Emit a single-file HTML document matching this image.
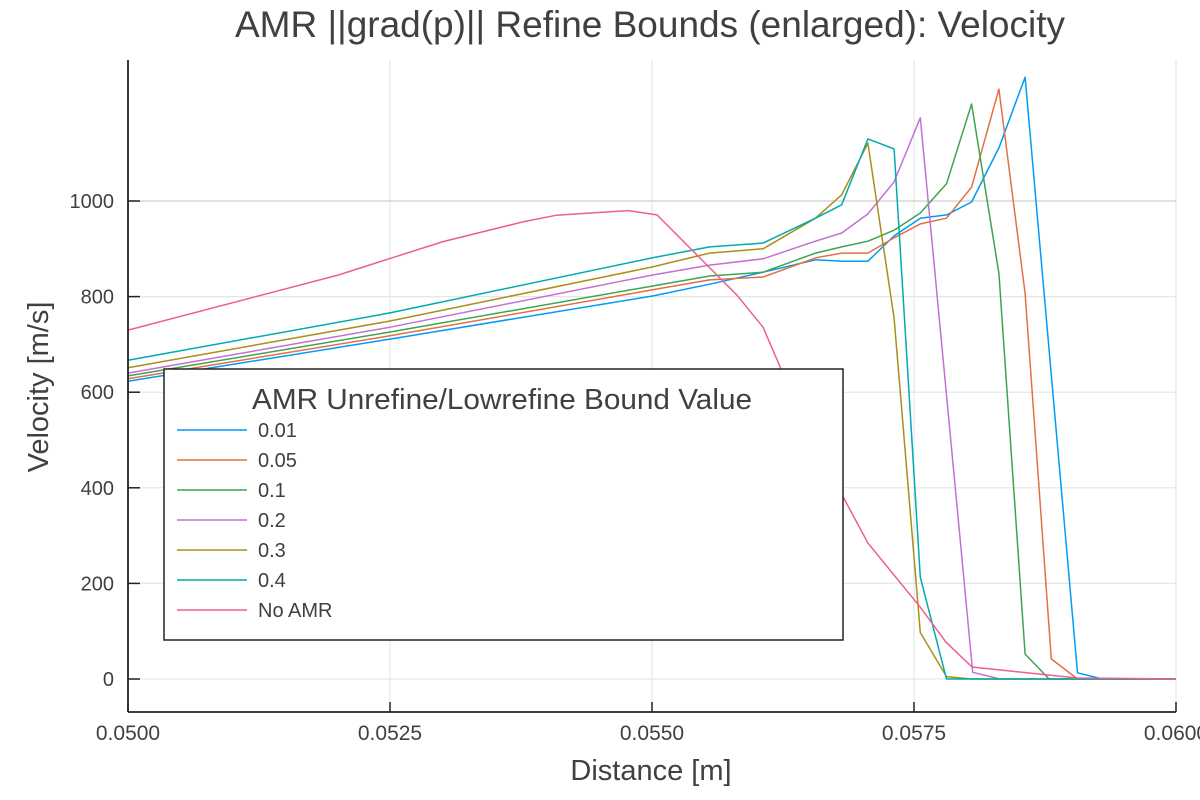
<!DOCTYPE html>
<html><head><meta charset="utf-8"><style>
html,body{margin:0;padding:0;background:#fff;}
svg{display:block;font-family:"Liberation Sans",sans-serif;}
</style></head><body>
<svg id="chart" width="1200" height="800" viewBox="0 0 1200 800" xmlns="http://www.w3.org/2000/svg">
<rect width="1200" height="800" fill="#fff"/>
<text x="650" y="37" text-anchor="middle" font-size="37" fill="#404040" textLength="830" lengthAdjust="spacingAndGlyphs">AMR ||grad(p)|| Refine Bounds (enlarged): Velocity</text>
<g id="grid"></g>
<g id="series"></g>
<g id="axes"></g>
<text x="651" y="780" text-anchor="middle" font-size="29" fill="#404040">Distance [m]</text>
<text transform="translate(48,387) rotate(-90)" text-anchor="middle" font-size="29" fill="#404040">Velocity [m/s]</text>
<g id="legend"></g>
</svg>
<script>
const xTicks=[0.05,0.0525,0.055,0.0575,0.06];
const xTickLabels=["0.0500","0.0525","0.0550","0.0575","0.0600"];
const yTicks=[0,200,400,600,800,1000];
const yTickLabels=["0","200","400","600","800","1000"];
const seriesNames=["0.01","0.05","0.1","0.2","0.3","0.4","No AMR"];
const colors=["#009AFA","#E36F47","#3EA44E","#C371D2","#AC8E18","#00AAAE","#ED5E93"];
const x001=[0.05,0.0525,0.055,0.05555,0.05606,0.05656,0.05681,0.05706,0.05731,0.05756,0.05781,0.05805,0.05831,0.05856,0.05906,0.0593,0.06];
const y001=[623,711,801,826,851,877,874,874,927,964,971,998,1111,1259,13,0,0];
const x005=[0.05,0.0525,0.055,0.05555,0.05606,0.05656,0.05681,0.05706,0.05731,0.05756,0.05781,0.05805,0.05831,0.05856,0.05881,0.05906,0.06];
const y005=[628,718,814,835,841,881,891,891,923,952,964,1029,1234,807,42,0,0];
const x01=[0.05,0.0525,0.055,0.05555,0.05606,0.05656,0.05681,0.05706,0.05731,0.05756,0.05781,0.05805,0.05831,0.05856,0.05879,0.06];
const y01=[634,726,822,843,851,891,904,916,939,975,1036,1203,849,52,0,0];
const x02=[0.05,0.0525,0.055,0.05555,0.05606,0.05656,0.05681,0.05706,0.05731,0.05756,0.05806,0.05832,0.06];
const y02=[640,736,845,866,879,916,933,973,1040,1174,14,0,0];
const x03=[0.05,0.0525,0.055,0.05555,0.05606,0.05656,0.05681,0.05706,0.05731,0.05756,0.05781,0.05805,0.06];
const y03=[651,749,862,891,900,964,1013,1121,755,97,5,0,0];
const x04=[0.05,0.0525,0.055,0.05555,0.05606,0.05656,0.05681,0.05706,0.05731,0.05756,0.05781,0.06];
const y04=[667,766,881,904,912,964,992,1130,1109,213,0,0];
const xNo=[0.05,0.052004,0.053006,0.053779,0.054084,0.054771,0.055048,0.055811,0.056059,0.056307,0.056555,0.056823,0.057061,0.057557,0.057805,0.058053,0.059055,0.06];
const yNo=[730,845,915,957,970,980,971,803,736,610,470,381,284,151,77,25,2,0];

const NS="http://www.w3.org/2000/svg";
const L=128,R=1176,T=60,B=712;
const sx=v=>L+(v-0.05)/0.01*(R-L);
const sy=v=>679-v*0.478;
function mk(tag,attrs,parent){const e=document.createElementNS(NS,tag);for(const k in attrs)e.setAttribute(k,attrs[k]);parent.appendChild(e);return e;}
const grid=document.getElementById('grid'),axes=document.getElementById('axes'),ser=document.getElementById('series'),leg=document.getElementById('legend');
xTicks.forEach((t,i)=>{
 const g=mk('line',{x1:sx(t),x2:sx(t),y1:T,y2:B,stroke:i==0?'none':'#e6e6e6','stroke-width':1.2},grid);
 
 
 const tk=mk('line',{x1:sx(t),x2:sx(t),y1:B,y2:B-10,stroke:'#222','stroke-width':1.5},axes);
 
 
 const lb=mk('text',{x:sx(t),y:B+28,'text-anchor':'middle','font-size':21,fill:'#404040'},axes);
 lb.textContent=xTickLabels[i];
 
 
});
yTicks.forEach((t,i)=>{
 const g=mk('line',{x1:L,x2:R,y1:sy(t),y2:sy(t),stroke:t==1000?'#cfcfcf':'#e6e6e6','stroke-width':1.2},grid);
 
 
 const tk=mk('line',{x1:L,x2:L+12,y1:sy(t),y2:sy(t),stroke:'#222','stroke-width':1.5},axes);
 
 
 const lb=mk('text',{x:114,y:sy(t)+7,'text-anchor':'end','font-size':20,fill:'#404040'},axes);
 lb.textContent=yTickLabels[i];
 
 
});
const ax1=mk('line',{x1:L,x2:L,y1:T,y2:B,stroke:'#222','stroke-width':1.8},axes);


const ax2=mk('line',{x1:L,x2:R,y1:B,y2:B,stroke:'#222','stroke-width':1.8},axes);


const allX=[x001,x005,x01,x02,x03,x04,xNo],allY=[y001,y005,y01,y02,y03,y04,yNo];
allX.forEach((xs,i)=>{
 const pts=xs.map((x,j)=>sx(x).toFixed(1)+','+sy(allY[i][j]).toFixed(1)).join(' ');
 const p=mk('polyline',{points:pts,fill:'none',stroke:colors[i],'stroke-width':1.5,'stroke-linejoin':'round'},ser);
 
 
});
const box=mk('rect',{x:164,y:369,width:679,height:271,fill:'#fff',stroke:'#222','stroke-width':1.5},leg);


const lt=mk('text',{x:502,y:409,'text-anchor':'middle','font-size':29,fill:'#404040',textLength:500,lengthAdjust:'spacingAndGlyphs'},leg);
lt.textContent='AMR Unrefine/Lowrefine Bound Value';


seriesNames.forEach((n,i)=>{
 const y=430+i*30;
 const ln=mk('line',{x1:177,x2:247,y1:y,y2:y,stroke:colors[i],'stroke-width':1.5},leg);
 
 
 const tx=mk('text',{x:258,y:y+7,'font-size':20,fill:'#404040'},leg);
 tx.textContent=n;
 
 
});
</script>
</body></html>
